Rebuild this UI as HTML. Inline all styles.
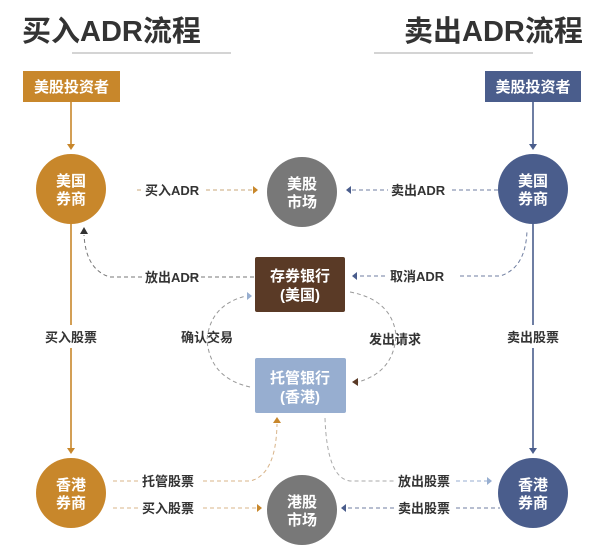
<!DOCTYPE html>
<html><head><meta charset="utf-8"><style>
html,body{margin:0;padding:0;background:#fff;}
svg{display:block;font-family:"Liberation Sans","Noto Sans CJK SC",sans-serif;}
.t{font-size:13px;font-weight:bold;fill:#333;}
.w{font-size:15px;font-weight:bold;fill:#fff;}
</style></head><body>
<svg width="600" height="552" viewBox="0 0 600 552" xmlns="http://www.w3.org/2000/svg">
<text x="22" y="41" font-size="29" font-weight="bold" fill="#333">买入ADR流程</text>
<text x="404" y="41" font-size="29" font-weight="bold" fill="#333">卖出ADR流程</text>
<line x1="72" y1="53" x2="231" y2="53" stroke="#bbb" stroke-width="1.2"/>
<line x1="374" y1="53" x2="533" y2="53" stroke="#bbb" stroke-width="1.2"/>

<rect x="23" y="71" width="97" height="31" fill="#c8872b"/>
<text x="71.5" y="92" class="w" text-anchor="middle">美股投资者</text>
<rect x="485" y="71" width="96" height="31" fill="#4a5d8c"/>
<text x="533" y="92" class="w" text-anchor="middle">美股投资者</text>

<line x1="71" y1="102" x2="71" y2="145" stroke="#c8872b" stroke-width="1.6"/>
<path d="M67 144 L75 144 L71 150Z" fill="#c8872b"/>
<line x1="533" y1="102" x2="533" y2="145" stroke="#4a5d8c" stroke-width="1.6"/>
<path d="M529 144 L537 144 L533 150Z" fill="#4a5d8c"/>

<!-- circles top -->
<circle cx="71" cy="189" r="35" fill="#c8872b"/>
<text x="71" y="186" class="w" text-anchor="middle">美国</text>
<text x="71" y="204" class="w" text-anchor="middle">券商</text>
<circle cx="302" cy="192" r="35" fill="#787878"/>
<text x="302" y="189" class="w" text-anchor="middle">美股</text>
<text x="302" y="207" class="w" text-anchor="middle">市场</text>
<circle cx="533" cy="189" r="35" fill="#4a5d8c"/>
<text x="533" y="186" class="w" text-anchor="middle">美国</text>
<text x="533" y="204" class="w" text-anchor="middle">券商</text>

<!-- top row -->
<line x1="137" y1="190" x2="143" y2="190" stroke="#c8a77a" stroke-dasharray="4 3"/>
<text x="145" y="195" class="t">买入ADR</text>
<line x1="206" y1="190" x2="252" y2="190" stroke="#c8a77a" stroke-dasharray="4 3"/>
<path d="M253 186 L258 190 L253 194Z" fill="#c8872b"/>
<path d="M351 186 L346 190 L351 194Z" fill="#4a5d8c"/>
<line x1="352" y1="190" x2="388" y2="190" stroke="#6f7ea0" stroke-dasharray="4 3"/>
<text x="391" y="195" class="t">卖出ADR</text>
<line x1="452" y1="190" x2="498" y2="190" stroke="#6f7ea0" stroke-dasharray="4 3"/>

<!-- vertical long lines -->
<line x1="71" y1="224" x2="71" y2="325" stroke="#c8872b" stroke-width="1.6"/>
<text x="71" y="342" class="t" text-anchor="middle">买入股票</text>
<line x1="71" y1="348" x2="71" y2="449" stroke="#c8872b" stroke-width="1.6"/>
<path d="M67 448 L75 448 L71 454Z" fill="#c8872b"/>
<line x1="533" y1="224" x2="533" y2="325" stroke="#4a5d8c" stroke-width="1.6"/>
<text x="533" y="342" class="t" text-anchor="middle">卖出股票</text>
<line x1="533" y1="348" x2="533" y2="449" stroke="#4a5d8c" stroke-width="1.6"/>
<path d="M529 448 L537 448 L533 454Z" fill="#4a5d8c"/>

<!-- 存券银行 -->
<rect x="255" y="257" width="90" height="55" rx="2" fill="#5a3a26"/>
<text x="300" y="281" class="w" text-anchor="middle">存券银行</text>
<text x="300" y="300" class="w" text-anchor="middle">(美国)</text>
<path d="M254 277 L185 277" stroke="#777" fill="none" stroke-dasharray="4 3"/>
<text x="145" y="282" class="t">放出ADR</text>
<path d="M142 277 L110 277 Q86 270 84 235" stroke="#777" fill="none" stroke-dasharray="4 3"/>
<path d="M80 234 L84 227 L88 234Z" fill="#333"/>
<path d="M357 272 L352 276 L357 280Z" fill="#4a5d8c"/>
<path d="M360 276 L386 276" stroke="#6f7ea0" fill="none" stroke-dasharray="4 3"/>
<text x="390" y="281" class="t">取消ADR</text>
<path d="M460 276 L500 276 Q526 268 527 230" stroke="#6f7ea0" fill="none" stroke-dasharray="4 3"/>

<!-- 托管银行 -->
<rect x="255" y="358" width="91" height="55" rx="2" fill="#97aed0"/>
<text x="300" y="383" class="w" text-anchor="middle">托管银行</text>
<text x="300" y="402" class="w" text-anchor="middle">(香港)</text>
<path d="M250 387 Q210 378 207 340 Q210 305 246 296" stroke="#999" fill="none" stroke-dasharray="4 3"/>
<path d="M247 292 L252 296 L247 300Z" fill="#97aed0"/>
<text x="181" y="342" class="t">确认交易</text>
<path d="M350 292 Q392 300 396 335 Q394 372 358 382" stroke="#999" fill="none" stroke-dasharray="4 3"/>
<path d="M358 378 L352 382 L358 386Z" fill="#5a3a26"/>
<text x="369" y="344" class="t">发出请求</text>

<!-- bottom circles -->
<circle cx="71" cy="493" r="35" fill="#c8872b"/>
<text x="71" y="490" class="w" text-anchor="middle">香港</text>
<text x="71" y="508" class="w" text-anchor="middle">券商</text>
<circle cx="302" cy="510" r="35" fill="#787878"/>
<text x="302" y="507" class="w" text-anchor="middle">港股</text>
<text x="302" y="525" class="w" text-anchor="middle">市场</text>
<circle cx="533" cy="493" r="35" fill="#4a5d8c"/>
<text x="533" y="490" class="w" text-anchor="middle">香港</text>
<text x="533" y="508" class="w" text-anchor="middle">券商</text>

<!-- bottom rows -->
<line x1="113" y1="481" x2="138" y2="481" stroke="#d8b48a" stroke-dasharray="4 3"/>
<text x="142" y="486" class="t">托管股票</text>
<path d="M203 481 L250 481 Q276 475 277 424" stroke="#d8b48a" fill="none" stroke-dasharray="4 3"/>
<path d="M273 423 L277 417 L281 423Z" fill="#c8872b"/>
<line x1="113" y1="508" x2="138" y2="508" stroke="#d8b48a" stroke-dasharray="4 3"/>
<text x="142" y="513" class="t">买入股票</text>
<line x1="203" y1="508" x2="257" y2="508" stroke="#d8b48a" stroke-dasharray="4 3"/>
<path d="M257 504 L262 508 L257 512Z" fill="#c8872b"/>

<path d="M325 418 Q327 478 350 481 L394 481" stroke="#aaa" fill="none" stroke-dasharray="4 3"/>
<text x="398" y="486" class="t">放出股票</text>
<line x1="456" y1="481" x2="487" y2="481" stroke="#97aed0" stroke-dasharray="4 3"/>
<path d="M487 477 L492 481 L487 485Z" fill="#97aed0"/>
<path d="M346 504 L341 508 L346 512Z" fill="#4a5d8c"/>
<line x1="348" y1="508" x2="394" y2="508" stroke="#6f7ea0" stroke-dasharray="4 3"/>
<text x="398" y="513" class="t">卖出股票</text>
<line x1="456" y1="508" x2="500" y2="508" stroke="#6f7ea0" stroke-dasharray="4 3"/>
</svg>
</body></html>
